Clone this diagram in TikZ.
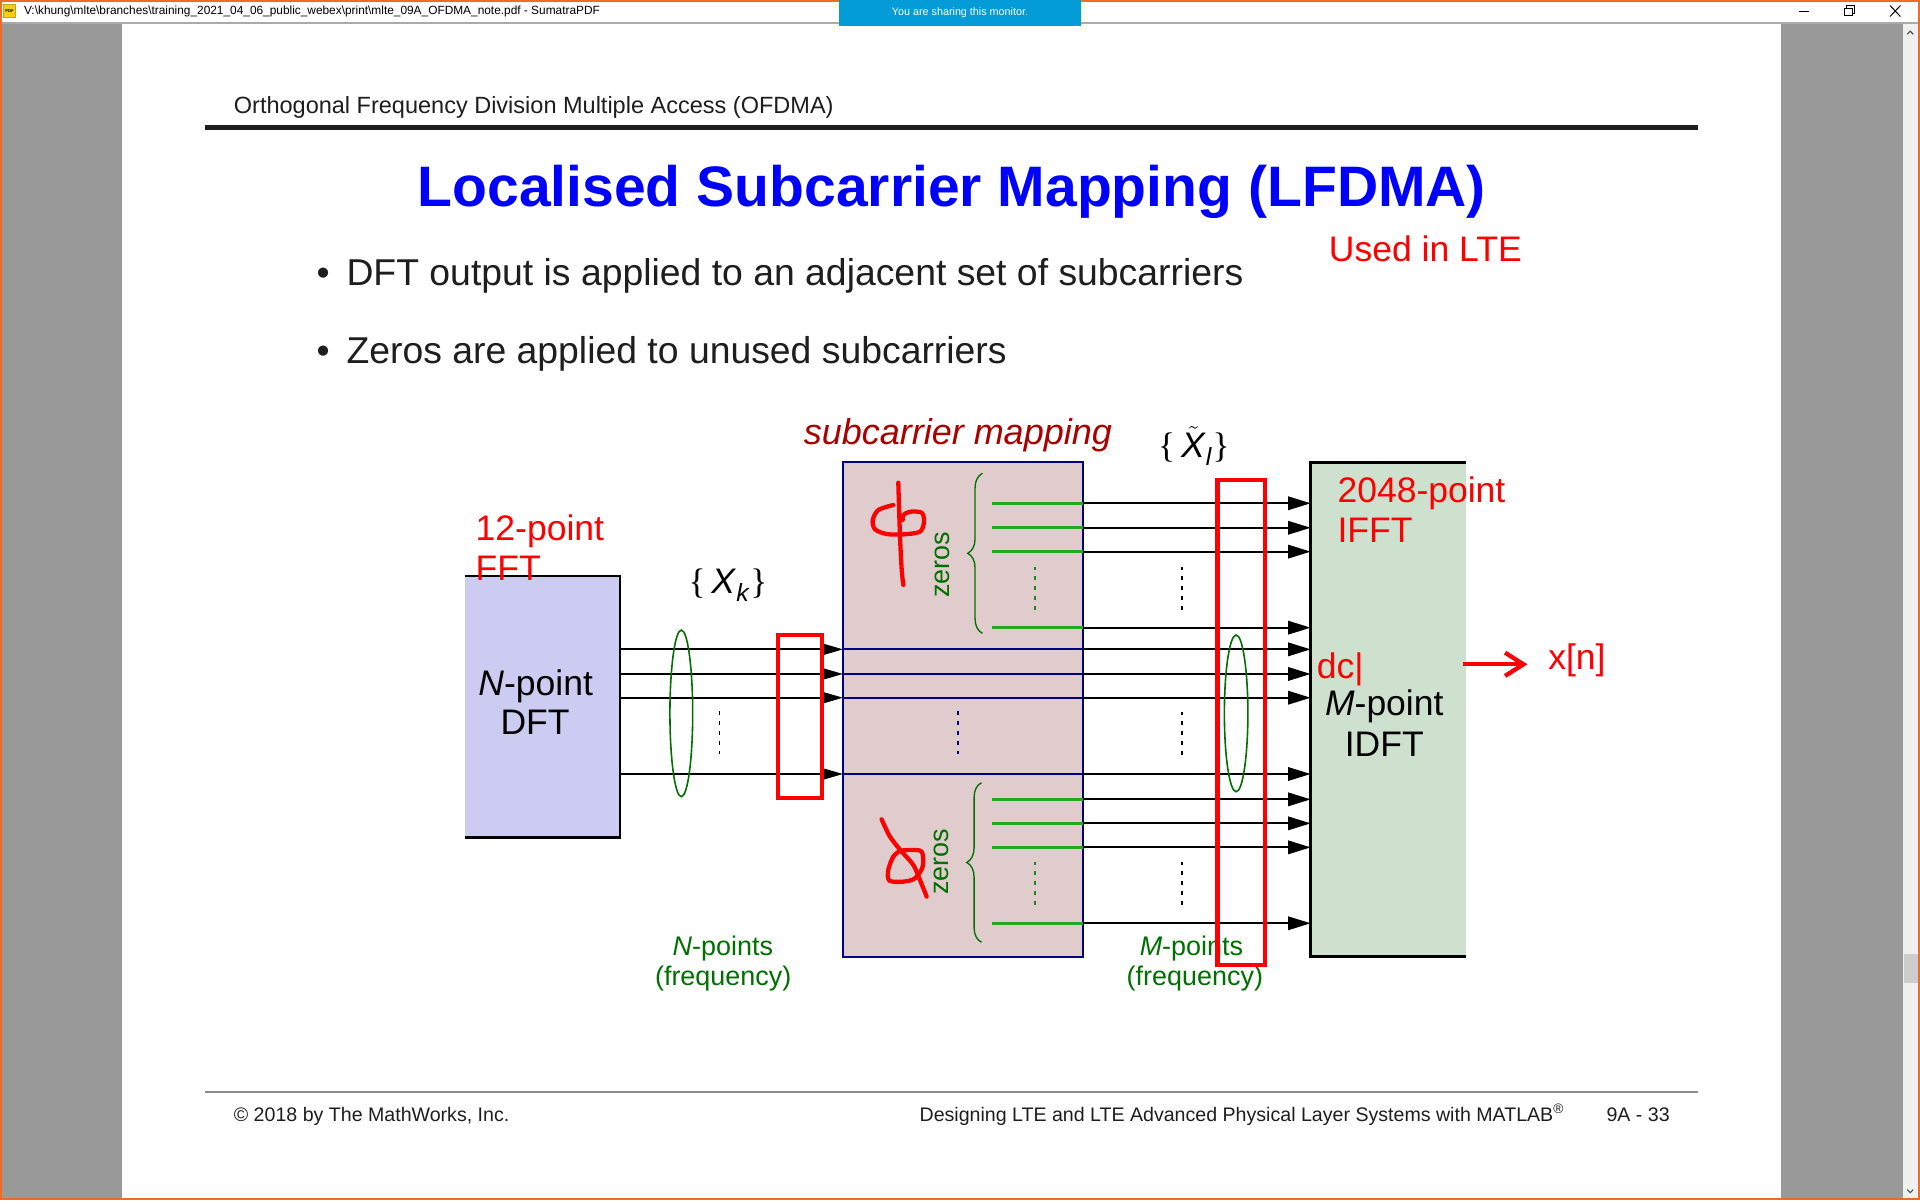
\documentclass[tikz,border=0pt]{standalone}
\usepackage{fontspec}
\setmainfont{Liberation Sans}
\newfontfamily\bracefont{Liberation Serif}
\usetikzlibrary{arrows.meta,decorations.pathreplacing}

\definecolor{winorange}{RGB}{240,108,36}
\definecolor{sidegray}{RGB}{153,153,153}
\definecolor{barline}{RGB}{170,170,170}
\definecolor{scrollgray}{RGB}{240,240,240}
\definecolor{thumbgray}{RGB}{205,205,205}
\definecolor{shareblue}{RGB}{4,156,216}
\definecolor{slidetext}{RGB}{30,30,30}
\definecolor{dftfill}{RGB}{204,204,242}
\definecolor{mapfill}{RGB}{224,204,204}
\definecolor{idftfill}{RGB}{206,224,206}
\definecolor{mapblue}{RGB}{0,0,128}
\definecolor{zgreen}{RGB}{36,168,36}
\definecolor{dkgreen}{RGB}{0,112,0}
\definecolor{mapred}{RGB}{170,0,0}
\definecolor{pdfyellow}{RGB}{246,206,20}

\newcommand{\fsz}[1]{\fontsize{#1}{#1}\selectfont}

\tikzstyle{txt} = [inner sep=0pt,outer sep=0pt]
\tikzstyle{block} = [rectangle,inner sep=0pt,outer sep=0pt]
\tikzstyle{sig} = [line width=1.6pt]
\tikzstyle{zline} = [line width=2.2pt,zgreen]
\tikzstyle{dots} = [line width=1.4pt,dash pattern=on 3pt off 5pt]
\tikzstyle{redmark} = [line width=3.5pt,red]
\tikzstyle{scrib} = [line width=3.5pt,red,line cap=round,line join=round]
\tikzstyle{zbrace} = [dkgreen,line width=1.1pt,decorate,decoration={brace,amplitude=12pt}]
\tikzstyle{lens} = [dkgreen,line width=1.3pt]
\tikzstyle{tipin} = [-{Triangle[length=15.5pt,width=8.5pt]}]
\tikzstyle{tipout} = [-{Triangle[length=18.5pt,width=11pt]}]

\begin{document}
\begin{tikzpicture}[x=1pt,y=-1pt]
	\useasboundingbox (0,0) rectangle (1568,980);
	% viewer window
	\fill[white] (0,0) rectangle (1568,980);
	\fill[sidegray] (1.6,19.6) rectangle (99.6,978.4);
	\fill[sidegray] (1454.5,19.6) rectangle (1554,978.4);
	\fill[scrollgray] (1554,19.6) rectangle (1566.4,978.4);
	\fill[thumbgray] (1555,779) rectangle (1566.4,803);
	\draw[black!70,line width=0.9pt] (1557.5,28) -- (1560,25.5) -- (1562.5,28);
	\draw[black!70,line width=0.9pt] (1557.5,971.5) -- (1560,974) -- (1562.5,971.5);
	\fill[barline] (1.6,18) rectangle (1566.4,19.6);
	\draw[winorange,line width=1.6pt] (0.8,0.8) rectangle (1567.2,979.2);
	\fill[shareblue] (685,0) rectangle (883,21);
	\node[txt,text=white] (share) at (784,10.5) {\fsz{8.8}You are sharing this monitor.};
	\draw[pdfyellow!80!black,fill=pdfyellow,line width=0.6pt] (3,3.5) rectangle (12.5,14);
	\node[txt] (pdficon) at (7.75,8.75) {\fsz{3.4}\bfseries PDF};
	\node[txt,anchor=west] (wintitle) at (19.6,9.6) {\fsz{9.7}V:\textbackslash khung\textbackslash mlte\textbackslash branches\textbackslash training\_2021\_04\_06\_public\_webex\textbackslash print\textbackslash mlte\_09A\_OFDMA\_note.pdf - SumatraPDF};
	\draw[line width=0.8pt] (1469,9) -- (1477,9);
	\draw[line width=0.7pt] (1506,6.5) rectangle (1512.5,13);
	\draw[line width=0.7pt] (1508,6.5) -- (1508,4.5) -- (1514.5,4.5) -- (1514.5,11) -- (1512.5,11);
	\draw[line width=0.8pt] (1543.5,4.5) -- (1552,13.5);
	\draw[line width=0.8pt] (1552,4.5) -- (1543.5,13.5);
	% slide frame
	\node[txt,anchor=base west,text=slidetext] (header) at (191,92.5) {\fsz{19.2}Orthogonal Frequency Division Multiple Access (OFDMA)};
	\fill[black!88] (167.2,102) rectangle (1386.3,106);
	\node[txt,anchor=base west,text=blue] (title) at (341,168.8) {\fsz{46.6}\bfseries Localised Subcarrier Mapping (LFDMA)};
	\node[txt,anchor=base west,text=red] (lte) at (1085.3,213.7) {\fsz{29}Used in LTE};
	\node[txt,anchor=base west,text=slidetext] (dot1) at (258.5,233) {\fsz{30.5}\textbullet};
	\node[txt,anchor=base west,text=slidetext] (bul1) at (283,233) {\fsz{30.5}DFT output is applied to an adjacent set of subcarriers};
	\node[txt,anchor=base west,text=slidetext] (dot2) at (258.5,297) {\fsz{30.5}\textbullet};
	\node[txt,anchor=base west,text=slidetext] (bul2) at (283,297) {\fsz{30.5}Zeros are applied to unused subcarriers};
	\fill[black!45] (167.2,891) rectangle (1386.3,892.8);
	\node[txt,anchor=base west,text=slidetext] (copy) at (191,916) {\fsz{16}\textcopyright\ 2018 by The MathWorks, Inc.};
	\node[txt,anchor=base west,text=slidetext] (course) at (751,916) {\fsz{16}Designing LTE and LTE Advanced Physical Layer Systems with MATLAB\textsuperscript{\textregistered}};
	\node[txt,anchor=base west,text=slidetext] (page) at (1312,916) {\fsz{16}9A - 33};
	% blocks
	\node[block,fill=dftfill,minimum width=126.9pt,minimum height=213.7pt] (DFT) at (442.85,577.25) {};
	\node[block,draw=mapblue,line width=1.6pt,fill=mapfill,minimum width=195.8pt,minimum height=403.7pt] (map) at (786.4,579.45) {};
	\node[block,fill=idftfill,minimum width=126.8pt,minimum height=403.7pt] (IDFT) at (1133.8,579.45) {};
	\draw[line width=2pt] (DFT.north west) -- (DFT.north east) -- (DFT.south east) -- (DFT.south west);
	\draw[line width=2pt] (IDFT.north east) -- (IDFT.north west) -- (IDFT.south west) -- (IDFT.south east);
	% signal lines
	\foreach \y in {530.3,550.4,569.8,632.1}
	{\draw[sig,tipin] (DFT.east |- 0,\y) -- (map.west |- 0,\y);
	\draw[sig,mapblue] (map.west |- 0,\y) -- (map.east |- 0,\y);}
	\foreach \y in {411,431,450.5,512.6,652.8,672.4,692,754}
	{\draw[zline] (810.3,\y) -- (map.east |- 0,\y);}
	\foreach \y in {411,431,450.5,512.6,530.3,550.4,569.8,632.1,652.8,672.4,692,754}
	{\draw[sig,tipout] (map.east |- 0,\y) -- (IDFT.west |- 0,\y);}
	\draw[dots] (587.6,581) -- (587.6,619.3);
	\draw[dots,mapblue] (782.3,581) -- (782.3,619.3);
	\draw[dots,zgreen!80!black] (845.3,462.8) -- (845.3,500.9);
	\draw[dots,zgreen!80!black] (845.3,703.7) -- (845.3,741.8);
	\foreach \y in {462.8,581.2,703.7}
	{\draw[dots] (965,\y) -- (965,\y+38.3);}
	\draw[zbrace] (802.3,517.2) -- (802.3,386.5);
	\draw[zbrace] (801.5,769.5) -- (801.5,639.2);
	\node[txt,rotate=90,text=dkgreen] (z1) at (769.5,461.4) {\fsz{22}zeros};
	\node[txt,rotate=90,text=dkgreen] (z2) at (769,703.7) {\fsz{22}zeros};
	\draw[lens] (556.4,582.6) ellipse (9.3 and 68);
	\draw[lens] (1009.5,582.6) ellipse (9.6 and 64);
	% labels
	\node[txt,anchor=base,text=black] (dftA) at (437.5,567.6) {\fsz{29}\textit{N}-point};
	\node[txt,anchor=base,text=black] (dftB) at (437,599.7) {\fsz{29}DFT};
	\node[txt,anchor=base,text=black] (idftA) at (1130.5,584) {\fsz{29}\textit{M}-point};
	\node[txt,anchor=base,text=black] (idftB) at (1130.5,617.4) {\fsz{29}IDFT};
	\node[txt,anchor=base west,text=red] (fftA) at (388.5,441) {\fsz{29}12-point};
	\node[txt,anchor=base west,text=red] (fftB) at (388.5,473.7) {\fsz{29}FFT};
	\node[txt,anchor=base west,text=red] (ifftA) at (1092.3,410.5) {\fsz{29}2048-point};
	\node[txt,anchor=base west,text=red] (ifftB) at (1092.3,443.2) {\fsz{29}IFFT};
	\node[txt,anchor=base west,text=red] (dc) at (1075.4,554) {\fsz{29}dc|};
	\node[txt,anchor=base west,text=red] (xn) at (1264.4,547) {\fsz{29}x[n]};
	\node[txt,anchor=base west,text=mapred] (maplbl) at (656.4,363.4) {\fsz{29.4}\itshape subcarrier mapping};
	\node[txt] (Xk) at (594.5,478) {\fsz{29}{\bracefont\{}\,\textit{X}\textsubscript{\textit{k}}{\bracefont\}}};
	\node[txt] (Xl) at (975,364) {\fsz{29}{\bracefont\{}\,$\tilde{\mbox{\textit{X}}}$\textsubscript{\textit{l}}{\bracefont\}}};
	\node[txt,anchor=base,text=dkgreen] (nptA) at (590.3,780.7) {\fsz{22}\textit{N}-points};
	\node[txt,anchor=base,text=dkgreen] (nptB) at (590.6,805) {\fsz{22}(frequency)};
	\node[txt,anchor=base,text=dkgreen] (mptA) at (973,780.7) {\fsz{22}\textit{M}-points};
	\node[txt,anchor=base,text=dkgreen] (mptB) at (975.8,805) {\fsz{22}(frequency)};
	% pen marks
	\draw[redmark] (635.4,518.8) rectangle (671.3,651.4);
	\draw[redmark] (994.3,392) rectangle (1033.3,788);
	\draw[redmark,-{Straight Barb[length=15pt,width=19pt]}] (1194.4,542.5) -- (1247.4,542.5);
	\draw[scrib] plot[smooth] coordinates {(733.6,394.2) (735,438.3) (736.4,465.5) (737.7,477.7)};
	\draw[scrib] plot[smooth] coordinates {(729.5,412.4) (717.3,416.5) (712.7,424.7) (714.6,432.3) (724.1,436.1) (737.7,436.4) (751.3,434.2) (754.6,426) (752.7,418.7) (743.2,417.9) (737.7,420.6) (737.2,424.7)};
	\draw[scrib] plot[smooth] coordinates {(720,669.1) (726.8,683.3) (736.4,695.5) (745.9,706.4) (751.3,718.7) (756.8,732.3)};
	\draw[scrib] plot[smooth] coordinates {(735,694.7) (729.5,699.6) (725.4,710.5) (726.3,719.2) (737.7,720) (747.2,717.3) (753.5,707.8) (752.7,695.5) (743.2,694.2) (735,694.7)};
\end{tikzpicture}
\end{document}
